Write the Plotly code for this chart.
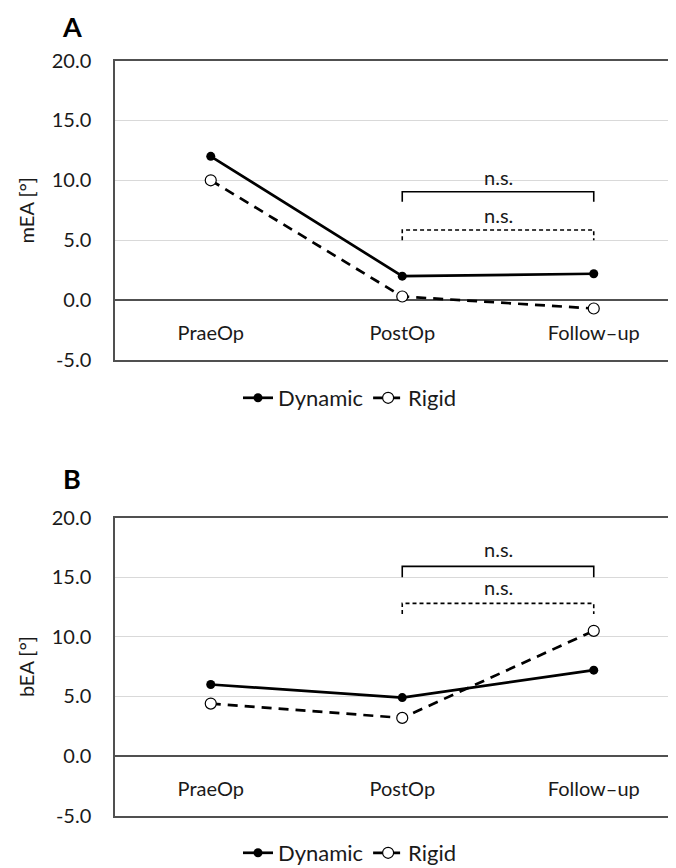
import plotly.graph_objects as go

# ---------------- data ----------------
categories = ["PraeOp", "PostOp", "Follow–up"]
series_names = ["Dynamic", "Rigid"]

mea_dynamic = [12.0, 2.0, 2.2]
mea_rigid = [10.0, 0.3, -0.7]

bea_dynamic = [6.0, 4.9, 7.2]
bea_rigid = [4.4, 3.2, 10.5]

y_tick_vals = [-5, 0, 5, 10, 15, 20]
y_tick_text = ["-5.0", "0.0", "5.0", "10.0", "15.0", "20.0"]

# significance brackets: (from category, to category, top value, foot value, label, style, label value)
brackets_A = [("PostOp", "Follow–up", 9.05, 8.2, "n.s.", "solid", 10.3),
              ("PostOp", "Follow–up", 5.85, 5.0, "n.s.", "dash", 7.1)]
brackets_B = [("PostOp", "Follow–up", 15.9, 15.0, "n.s.", "solid", 17.4),
              ("PostOp", "Follow–up", 12.8, 11.9, "n.s.", "dash", 14.2)]

panel_labels = ["A", "B"]
y_titles = ["mEA [°]", "bEA [°]"]

# ---------------- styling ----------------
FONT = "Lato"
TXT = "#1a1a1a"
AXC = "#505050"
GRID = "#d9d9d9"
W, H = 676, 868
OFF = 8  # page body margin in the browser


def px_x(sx):
    return (sx - OFF) / W


def px_y(sy):
    return 1 - (sy - OFF) / H


fig = go.Figure()


def add_panel(idx, dyn, rig, brackets, legend_name):
    xa = "x" if idx == 1 else f"x{idx}"
    ya = "y" if idx == 1 else f"y{idx}"
    fig.add_trace(go.Scatter(
        x=categories, y=dyn, name=series_names[0], mode="lines+markers",
        line=dict(color="black", width=2.7),
        marker=dict(symbol="circle", size=9, color="black"),
        xaxis=xa, yaxis=ya, legend=legend_name))
    fig.add_trace(go.Scatter(
        x=categories, y=rig, name=series_names[1], mode="lines+markers",
        line=dict(color="black", width=2.7, dash="10px,7px"),
        marker=dict(symbol="circle", size=11, color="white",
                    line=dict(color="black", width=1.2)),
        xaxis=xa, yaxis=ya, legend=legend_name))
    for (c0, c1, top, foot, lab, style, ly) in brackets:
        fig.add_trace(go.Scatter(
            x=[c0, c0, c1, c1], y=[foot, top, top, foot], mode="lines",
            line=dict(color="black", width=1.6,
                      dash="solid" if style == "solid" else "4px,3px"),
            showlegend=False, hoverinfo="skip", xaxis=xa, yaxis=ya))
        fig.add_annotation(x=1.5, y=ly, xref=xa, yref=ya, text=lab,
                           showarrow=False, xanchor="center", yanchor="middle",
                           font=dict(family=FONT, size=20, color=TXT))


add_panel(1, mea_dynamic, mea_rigid, brackets_A, "legend")
add_panel(2, bea_dynamic, bea_rigid, brackets_B, "legend2")

x_dom = [px_x(115), 1.0]
domA = [px_y(360), px_y(60.5)]
domB = [px_y(815.7), px_y(517.5)]
x_right = -0.5 + (W + OFF - 115) / 191.5

xcommon = dict(type="category", range=[-0.5, x_right], showgrid=False,
               showline=True, linecolor=AXC, linewidth=1.5, mirror=True,
               ticks="", ticklabelposition="inside", ticklabelstandoff=17,
               ticklabeloverflow="allow", automargin=False,
               tickfont=dict(family=FONT, size=20, color=TXT),
               zeroline=False, fixedrange=True)
ycommon = dict(range=[-5, 20], tickvals=y_tick_vals, ticktext=y_tick_text,
               showgrid=True, gridcolor=GRID, gridwidth=1,
               zeroline=True, zerolinecolor=AXC, zerolinewidth=1.5,
               showline=True, linecolor=AXC, linewidth=1.5, mirror=False,
               ticks="", ticklabelstandoff=18, ticklabeloverflow="allow",
               automargin=False,
               tickfont=dict(family=FONT, size=20, color=TXT))

fig.update_layout(
    width=W, height=H,
    margin=dict(l=0, r=0, t=0, b=0, autoexpand=False),
    paper_bgcolor="white", plot_bgcolor="white",
    font=dict(family=FONT, color=TXT),
    xaxis=dict(domain=x_dom, anchor="y", **xcommon),
    yaxis=dict(domain=domA, anchor="x",
               title=dict(text=y_titles[0], standoff=12,
                          font=dict(family=FONT, size=20, color=TXT)),
               **ycommon),
    xaxis2=dict(domain=x_dom, anchor="y2", **xcommon),
    yaxis2=dict(domain=domB, anchor="x2",
                title=dict(text=y_titles[1], standoff=12,
                           font=dict(family=FONT, size=20, color=TXT)),
                **ycommon),
    legend=dict(orientation="h", x=px_x(350), xanchor="center",
                y=px_y(398), yanchor="middle", bgcolor="rgba(0,0,0,0)",
                font=dict(family=FONT, size=22, color=TXT)),
    legend2=dict(orientation="h", x=px_x(350), xanchor="center",
                 y=px_y(853), yanchor="middle", bgcolor="rgba(0,0,0,0)",
                 font=dict(family=FONT, size=22, color=TXT)),
    showlegend=True,
)

for lab, ytop in zip(panel_labels, [8.5, 460]):
    fig.add_annotation(x=px_x(72), y=px_y(ytop), xref="paper", yref="paper",
                       xanchor="center", yanchor="top",
                       text=f"<b>{lab}</b>", showarrow=False,
                       font=dict(family=FONT, size=27, color="black"))

fig.write_html("out.html")
